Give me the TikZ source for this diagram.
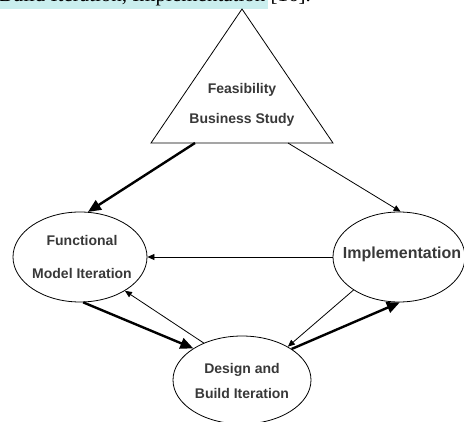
\documentclass[tikz,border=0pt]{standalone}
\usepackage{fontspec}
\setmainfont{Liberation Sans}
\newfontfamily\citefont{Liberation Serif}
\usetikzlibrary{shapes.geometric, arrows.meta}

\definecolor{marker}{RGB}{202,238,238}

\tikzset{
  phase/.style={draw, ellipse, line width=0.8pt, minimum width=134pt, minimum height=90pt, inner sep=0pt},
  lbl/.style={text=black!78, font=\bfseries\fontsize{14}{14}\selectfont},
  thin arrow/.style={-{Triangle[length=7pt,width=6pt]}, line width=0.8pt},
  thick arrow/.style={-{Triangle[length=13pt,width=11pt]}, line width=2.4pt}
}

\begin{document}
\begin{tikzpicture}[x=1pt,y=-1pt]
\useasboundingbox (0,0) rectangle (464,422);
\clip (0,0) rectangle (464,422);

%the citation line, cut at the top
\node [anchor=base east, fill=marker, inner sep=2.5pt, font=\citefont\fontsize{21}{21}\selectfont] (cite) at (268,2) {Build Iteration, Implementation};
\node [anchor=base west, inner sep=2.5pt, font=\citefont\fontsize{21}{21}\selectfont] (ref) at (cite.base east) {[16].};

%the triangle
\coordinate (apex) at (242,9);
\coordinate (baseL) at (151,143);
\coordinate (baseR) at (333,143);
\draw [line width=0.8pt] (apex) -- (baseL) -- (baseR) -- cycle;
\node [lbl] (feas) at (242,90) {Feasibility};
\node [lbl] (bus) at (242,120) {Business Study};

%the ellipses
\node [phase] (func) at (80,257) {};
\node [lbl] (funcA) at (82,240) {Functional};
\node [lbl] (funcB) at (82,273) {Model Iteration};

\node [phase, minimum width=132pt] (impl) at (399,257) {};
\node [lbl, font=\bfseries\fontsize{16}{16}\selectfont] (implA) at (402,254) {Implementation};

\node [phase, minimum width=138pt, minimum height=88pt] (dbi) at (242,380) {};
\node [lbl] (dbiA) at (242,370) {Design and};
\node [lbl] (dbiB) at (242,393) {Build Iteration};

%the arrows
\coordinate (outL) at (195,143);
\coordinate (outR) at (288,143);
\draw [thick arrow] (outL) -- (func.80);
\draw [thin arrow] (outR) -- (impl.88);
\draw [thin arrow] (impl.180) -- (func.0);
\draw [thick arrow] (func.-86) -- (dbi.147);
\draw [thin arrow] (dbi.136) -- (func.-37);
\draw [thin arrow] (impl.-144) -- (dbi.36);
\draw [thick arrow] (dbi.32) -- (impl.-89);
\end{tikzpicture}
\end{document}
